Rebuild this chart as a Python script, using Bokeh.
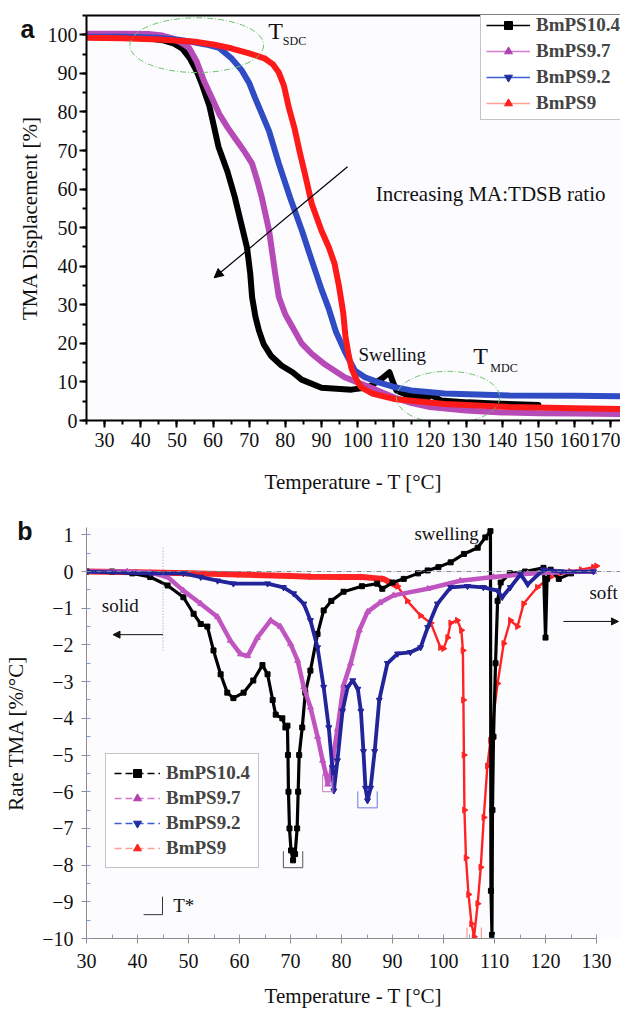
import numpy as np
from bokeh.plotting import figure
from bokeh.layouts import column
from bokeh.models import (Legend, LegendItem, Label, Arrow, NormalHead, Span, Range1d,
                          SingleIntervalTicker, FixedTicker, LinearAxis, CustomJSTickFormatter)
from bokeh.embed import file_html
from bokeh.resources import INLINE

# ---------------- data: panel a (TMA displacement, %) ----------------
series_names = ["BmPS10.4", "BmPS9.7", "BmPS9.2", "BmPS9"]

a_T_104 = [25, 35, 42, 46, 49, 51.5, 53.5, 55.5, 57, 59, 61.5, 64, 66, 67.8, 69.4, 70.3, 70.8, 71.7, 72.7,
           74, 76, 79, 82, 84.5, 90, 98.3, 103, 106.6, 108.8, 109.9, 110.7, 114, 119.5, 120.4, 123, 130.5, 137.7, 150]
a_v_104 = [99.4, 99.3, 99.1, 98.6, 97.8, 96.4, 94, 90.5, 87, 81.5, 71, 64.5, 58, 51, 44.8, 38, 32, 27, 23.3,
           19.8, 16.8, 14.2, 12.5, 10.6, 8.5, 8.0, 8.6, 10.8, 12.5, 9.6, 7.8, 6.5, 6.0, 6.6, 5.2, 4.7, 4.4, 4.0]

a_T_97 = [25, 35, 42, 46, 49, 51.5, 53.4, 55.5, 57.5, 59.5, 61.7, 64, 66, 68.5, 70.8, 72.3, 73.5, 74.5, 75.5,
          76.3, 77.2, 78.2, 80, 81.8, 84.5, 87.3, 91, 96.4, 101, 105, 110, 115, 120, 130, 140, 150, 160, 173]
a_v_97 = [100.3, 100.3, 100.2, 99.8, 99, 97.8, 96.6, 93, 88, 84, 79.5, 76, 73.3, 70, 66.6, 62, 57.8, 53.5, 49.2,
          44, 38, 32, 27.5, 24.5, 20, 17.3, 14.5, 11.2, 9.5, 8.0, 6.0, 4.5, 3.5, 2.6, 2.1, 1.9, 1.8, 1.7]

a_T_92 = [25, 35, 45, 50, 54, 58, 61.7, 65, 68, 70, 71.6, 73.5, 75.5, 78.2, 81.3, 84.6, 87.3, 90, 92, 94,
          96.4, 99.2, 102, 105.8, 110, 114.8, 124, 142, 160, 173]
a_v_92 = [99.5, 99.5, 99.2, 98.8, 98.2, 97.5, 96.6, 94, 90.7, 87.5, 83.7, 79.5, 75, 66.6, 57.8, 49.2, 41.5, 34,
          29, 23, 18, 13, 11.2, 9.9, 8.7, 7.8, 7.0, 6.5, 6.4, 6.3]

a_T_9 = [25, 35, 45, 55, 60, 65, 70, 74.4, 76.5, 78.2, 79.6, 81, 82.6, 84, 85.4, 87.3, 90, 92, 93.6, 94.8,
         96, 96.6, 97.5, 98.3, 100, 101, 104, 110, 124, 142, 160, 173]
a_v_9 = [99.2, 99.1, 98.8, 98.2, 97.5, 96.5, 95.2, 93.8, 92.4, 90.2, 86.8, 81, 75.5, 69.5, 64, 56.2, 49.2, 45,
         40.7, 35, 28, 22, 17, 13.5, 10, 8.6, 7.0, 5.6, 4.3, 3.5, 3.2, 3.0]

# ---------------- data: panel b (rate of TMA, %/degC) ----------------
b_T_104 = [30, 35, 39, 42.5, 45.9, 49, 51, 52.4, 53.7, 54.9, 56.3, 57.6, 58.8, 60.8, 62.7, 64.5, 65.5, 66.5,
           67.1, 68.4, 69.0, 69.4, 69.5, 69.6, 69.8, 70.1, 70.5, 70.9, 71.3, 71.5, 71.7, 72.3, 72.9, 73.9, 75.3,
           76.5, 78, 80.4, 84, 87, 88, 90, 92.2, 95, 96.9, 99, 101.4, 104, 106.7, 108.2, 109.2, 109.3, 109.5,
           109.6, 109.8, 110.2, 110.6, 111.2, 113, 116, 119.6, 120, 120.3, 121, 122.6, 125]
b_v_104 = [0, 0, -0.05, -0.15, -0.38, -0.7, -1.15, -1.43, -1.5, -2.15, -2.8, -3.3, -3.45, -3.3, -2.97, -2.55,
           -2.8, -3.5, -3.9, -4.0, -4.25, -4.2, -5.0, -6.0, -7.0, -7.6, -7.87, -7.7, -7.0, -6.0, -5.0, -4.25,
           -3.3, -2.7, -1.7, -1.06, -0.8, -0.55, -0.4, -0.33, -0.47, -0.3, -0.2, -0.05, 0.03, 0.12, 0.25, 0.48,
           0.65, 0.93, 1.1, -8.7, -9.9, -6.5, -4.5, -2.5, -0.8, -0.3, -0.05, 0.0, 0.1, -1.8, -0.2, 0.05, -0.2, -0.05]

b_T_97 = [30, 38, 42.5, 45.9, 49, 52.4, 55.7, 58.2, 60.2, 61.6, 63.5, 66.1, 68, 70, 71.4, 72.6, 73.9, 75.3,
          76.3, 76.9, 77.3, 77.8, 78.4, 79.2, 80.4, 81.8, 83.5, 85.1, 87.5, 90.2, 96.9, 103.3, 109.8, 116.5, 122, 129.4]
b_v_97 = [0, 0, -0.03, -0.15, -0.52, -0.88, -1.24, -1.88, -2.25, -2.3, -1.8, -1.33, -1.5, -1.97, -2.43, -3.15,
          -3.7, -4.5, -5.15, -5.5, -5.8, -5.6, -5.0, -4.3, -3.1, -2.5, -1.6, -1.1, -0.85, -0.65, -0.47, -0.25,
          -0.15, -0.06, -0.02, 0]

b_T_92 = [30, 42.5, 49, 52.4, 55.7, 58.8, 65.5, 68.6, 70.6, 72.6, 73.9, 75.3, 76.5, 77.5, 78.2, 78.5, 79.2,
          80.2, 81.2, 82.2, 83.2, 83.8, 84.3, 84.7, 85.1, 85.7, 86.5, 87.4, 89, 91, 93.5, 95.5, 96.9, 98.8,
          101.4, 104.7, 107.8, 110.6, 111.5, 113.1, 115.1, 116.5, 119.6, 123, 129.4]
b_v_92 = [0, -0.05, -0.05, -0.15, -0.25, -0.33, -0.33, -0.43, -0.6, -0.88, -1.33, -2.07, -3.15, -4.25, -5.34,
          -5.97, -5.15, -3.8, -3.15, -2.97, -3.2, -3.8, -4.9, -5.9, -6.24, -5.9, -4.9, -3.5, -2.5, -2.24, -2.2,
          -2.07, -1.52, -0.88, -0.43, -0.4, -0.43, -0.52, -0.7, -0.43, -0.08, -0.35, 0.05, 0, 0]

b_T_9 = [30, 40, 50, 60, 70, 74, 80, 84, 88.2, 91, 92.9, 95.5, 97.5, 99.4, 100, 100.8, 101.4, 102.7, 103.5,
         103.8, 103.9, 104, 104.1, 104.4, 104.9, 105.5, 106, 106.7, 107.3, 107.9, 108.6, 109.2, 110.6, 111.8,
         113.1, 114.5, 115.7, 118.4, 121, 124.9, 127, 129.4, 130]
b_v_9 = [0, -0.02, -0.05, -0.08, -0.12, -0.14, -0.15, -0.15, -0.2, -0.4, -0.8, -1.2, -1.4, -2.07, -2.1, -1.8,
         -1.4, -1.33, -1.6, -2.15, -3.5, -5.0, -6.5, -7.8, -8.8, -9.6, -9.95, -9.05, -8.06, -6.7, -5.3, -4.6,
         -3.05, -1.96, -1.33, -1.5, -0.88, -0.43, -0.15, 0, 0.05, 0.12, 0.15]

# windows (degC) in which each rate curve's marked minimum lies
b_min_windows = [(60, 80), (70, 80), (82, 90), (100, 110)]

# styles
SERIF = "Liberation Serif"
a_colors = ["#000000", "#b64ab6", "#2f4cc4", "#ff1a1a"]
b_colors = ["#000000", "#c055c0", "#23239a", "#ff2424"]
leg_line_colors = ["#000000", "#d27ad2", "#3a5ed6", "#ffa090"]
leg_marker_colors = ["#000000", "#b040b0", "#1f2fa0", "#ff2020"]
markers = ["square", "triangle", "inverted_triangle", "triangle"]
marker_angles = [0, 0, 0, -np.pi / 2]


def style_axis(ax, color, width, size):
    ax.axis_line_color = color
    ax.axis_line_width = width
    ax.major_tick_line_color = color
    ax.minor_tick_line_color = color
    ax.major_tick_line_width = width
    ax.minor_tick_line_width = width
    ax.major_label_text_font = SERIF
    ax.major_label_text_font_size = size
    ax.major_label_text_color = "#111111"
    ax.axis_label_text_font = SERIF
    ax.axis_label_text_font_style = "normal"
    ax.axis_label_text_font_size = "21px"
    ax.axis_label_text_color = "#111111"


def panel_letter_axis(p, letter, at, label, letter_standoff, label_standoff):
    """Outer left axis that carries only the panel letter (as its single tick label) and the y title."""
    ax = LinearAxis(ticker=FixedTicker(ticks=[at]),
                    formatter=CustomJSTickFormatter(code="return '%s'" % letter),
                    axis_line_color=None, major_tick_line_color=None, minor_tick_line_color=None,
                    major_tick_out=0, major_tick_in=0, major_label_standoff=letter_standoff,
                    major_label_text_font="Liberation Sans", major_label_text_font_style="bold",
                    major_label_text_font_size="25px", major_label_text_color="#111111",
                    axis_label=label, axis_label_standoff=label_standoff,
                    axis_label_text_font=SERIF, axis_label_text_font_style="normal",
                    axis_label_text_font_size="21px", axis_label_text_color="#111111")
    p.add_layout(ax, "left")


def lab(p, x, y, text, size="19px", font=SERIF, style="normal", align="left", base="middle"):
    p.add_layout(Label(x=x, y=y, text=text, text_font=font, text_font_size=size, text_font_style=style,
                       text_align=align, text_baseline=base, text_color="#111111"))


# ================= panel a =================
pa = figure(width=620, height=500, output_backend="svg", toolbar_location=None,
            x_range=Range1d(25, 172.7), y_range=Range1d(0, 105),
            min_border_left=84, min_border_right=0, min_border_top=15, min_border_bottom=80)
pa.outline_line_color = None
pa.xgrid.visible = False
pa.ygrid.visible = False
pa.background_fill_color = "#fcfcff"
pa.xaxis.ticker = SingleIntervalTicker(interval=10, num_minor_ticks=2)
pa.yaxis.ticker = SingleIntervalTicker(interval=10, num_minor_ticks=2)
for ax in (pa.xaxis[0], pa.yaxis[0]):
    style_axis(ax, "#000000", 2, "20px")
    ax.major_tick_out = 7
    ax.major_tick_in = 0
    ax.minor_tick_out = 4
    ax.minor_tick_in = 0
pa.yaxis[0].major_label_standoff = 2
pa.xaxis.axis_label = "Temperature - T [°C]"
pa.xaxis.axis_label_standoff = 20
panel_letter_axis(pa, "a", 101.6, "TMA Displacement [%]", 10, -24)
top_ax = LinearAxis(major_tick_line_color=None, minor_tick_line_color=None,
                    major_label_text_font_size="0px", axis_line_width=2, axis_line_color="#000000")
pa.add_layout(top_ax, "above")

a_T = [a_T_104, a_T_97, a_T_92, a_T_9]
a_v = [a_v_104, a_v_97, a_v_92, a_v_9]
for i in [0, 1, 2, 3]:
    pa.line(a_T[i], a_v[i], line_color=a_colors[i], line_width=6, line_join="round", line_cap="round")

pa.ellipse(x=[55.5, 125], y=[97.3, 6], width=[37, 28.6], height=[14.2, 13.5],
           fill_alpha=0, line_color="#6cc06c", line_width=1, line_dash="6 2 1 2")

pa.add_layout(Arrow(end=NormalHead(size=9, fill_color="#000000", line_color="#000000"),
                    x_start=97.2, y_start=65.8, x_end=60.3, y_end=37, line_width=1.2, line_color="#000000"))

lab(pa, 75.3, 101.0, "T", size="24px")
lab(pa, 79.3, 98.3, "SDC", size="12px")
lab(pa, 132.0, 16.6, "T", size="24px")
lab(pa, 136.7, 13.7, "MDC", size="12px")
lab(pa, 100.2, 17.2, "Swelling", size="19px")
lab(pa, 105.0, 58.8, "Increasing MA:TDSB ratio", size="21px")

items_a = []
for i in range(4):
    l = pa.line(x=[-1000], y=[-1000], line_color=leg_line_colors[i], line_width=1.6)
    m = pa.scatter(x=[-1000], y=[-1000], marker=markers[i], angle=marker_angles[i], size=6,
                   fill_color=leg_marker_colors[i], line_color=leg_marker_colors[i])
    items_a.append(LegendItem(label=series_names[i], renderers=[l, m]))
leg_a = Legend(items=items_a, location=(394, 300), label_text_font=SERIF, label_text_font_style="bold",
               label_text_font_size="19px", glyph_width=44, glyph_height=20, label_height=20,
               label_standoff=6, spacing=4, padding=5, margin=0, border_line_color="#8a8a8a",
               border_line_width=1, background_fill_color="white", background_fill_alpha=1)
pa.add_layout(leg_a)

# ================= panel b =================
pb = figure(width=620, height=511, output_backend="svg", toolbar_location=None,
            x_range=Range1d(30, 134.7), y_range=Range1d(-10, 1.2),
            min_border_left=86, min_border_right=0, min_border_top=27, min_border_bottom=73)
pb.outline_line_color = None
pb.xgrid.visible = False
pb.ygrid.visible = False
pb.background_fill_color = "#fcfcff"
pb.xaxis.ticker = SingleIntervalTicker(interval=10, num_minor_ticks=2)
pb.yaxis.ticker = SingleIntervalTicker(interval=1, num_minor_ticks=2)
pb.xaxis.bounds = (30, 130)
for ax in (pb.xaxis[0], pb.yaxis[0]):
    style_axis(ax, "#8c8c8c", 1, "20px")
    ax.major_tick_out = 5
    ax.major_tick_in = 0
    ax.minor_tick_out = 0
    ax.minor_tick_in = 4
    ax.minor_tick_line_color = "#7aa0c8"
pb.yaxis[0].major_label_standoff = 8
pb.xaxis[0].major_label_standoff = 10
pb.xaxis.axis_label = "Temperature - T [°C]"
pb.xaxis.axis_label_standoff = 13
panel_letter_axis(pb, "b", 1.1, "Rate TMA [%/°C]", 7, -14)

pb.add_layout(Span(location=0, dimension="width", line_color="#7d8a96", line_width=1, line_dash="5 2 1 2"))

b_T = [b_T_104, b_T_97, b_T_92, b_T_9]
b_v = [b_v_104, b_v_97, b_v_92, b_v_9]
b_widths = [3.2, 4.5, 3.8, 2.4]
b_sizes = [5, 6, 6, 6]
pb.line(b_T_9[:10], b_v_9[:10], line_color=b_colors[3], line_width=6)
for i in [3, 0, 1, 2]:
    pb.line(b_T[i], b_v[i], line_color=b_colors[i], line_width=b_widths[i])
    pb.scatter(b_T[i], b_v[i], marker=markers[i], angle=marker_angles[i], size=b_sizes[i],
               fill_color=b_colors[i], line_color=b_colors[i])

for i, (dx, c) in enumerate([(1.9, "#555555"), (1.0, "#c27ac2"), (1.9, "#6a78d8"), (1.4, "#ff8080")]):
    lo, hi = b_min_windows[i]
    cand = [(v, t) for t, v in zip(b_T[i], b_v[i]) if lo <= t <= hi]
    vm, tm = min(cand)
    pb.line([tm - dx, tm - dx, tm + dx, tm + dx], [vm + 0.25, vm - 0.2, vm - 0.2, vm + 0.25],
            line_color=c, line_width=1)

pb.segment(x0=[45], y0=[0.65], x1=[45], y1=[-2.15], line_color="#7aa0c8", line_width=1, line_dash="1 2")
pb.add_layout(Arrow(end=NormalHead(size=7, fill_color="#111111", line_color="#111111"),
                    x_start=45, y_start=-1.72, x_end=35.2, y_end=-1.72, line_width=1, line_color="#111111"))
pb.add_layout(Arrow(end=NormalHead(size=7, fill_color="#111111", line_color="#111111"),
                    x_start=123.5, y_start=-1.36, x_end=134.3, y_end=-1.36, line_width=1, line_color="#111111"))
lab(pb, 33.0, -0.93, "solid", size="19px")
lab(pb, 128.6, -0.57, "soft", size="19px")
lab(pb, 94.3, 1.04, "swelling", size="19px")
pb.line([41.2, 44.9, 44.9], [-9.35, -9.35, -8.86], line_color="#333333", line_width=1)
lab(pb, 47.0, -9.1, "T*", size="19px")

items_b = []
for i in range(4):
    l = pb.line(x=[-1000], y=[-1000], line_color=leg_line_colors[i], line_width=1.6, line_dash="7 4")
    m = pb.scatter(x=[-1000], y=[-1000], marker=markers[i], angle=marker_angles[i], size=6,
                   fill_color=leg_marker_colors[i], line_color=leg_marker_colors[i])
    items_b.append(LegendItem(label=series_names[i], renderers=[l, m]))
leg_b = Legend(items=items_b, location=(19, 70), label_text_font=SERIF, label_text_font_style="bold",
               label_text_font_size="19px", glyph_width=46, glyph_height=20, label_height=20,
               label_standoff=6, spacing=3, padding=8, margin=0, border_line_color="#8a8a8a",
               border_line_width=1, background_fill_color="white", background_fill_alpha=1)
pb.add_layout(leg_b)

layout = column(pa, pb, spacing=0)
open("out.html", "w").write(file_html(layout, INLINE))
